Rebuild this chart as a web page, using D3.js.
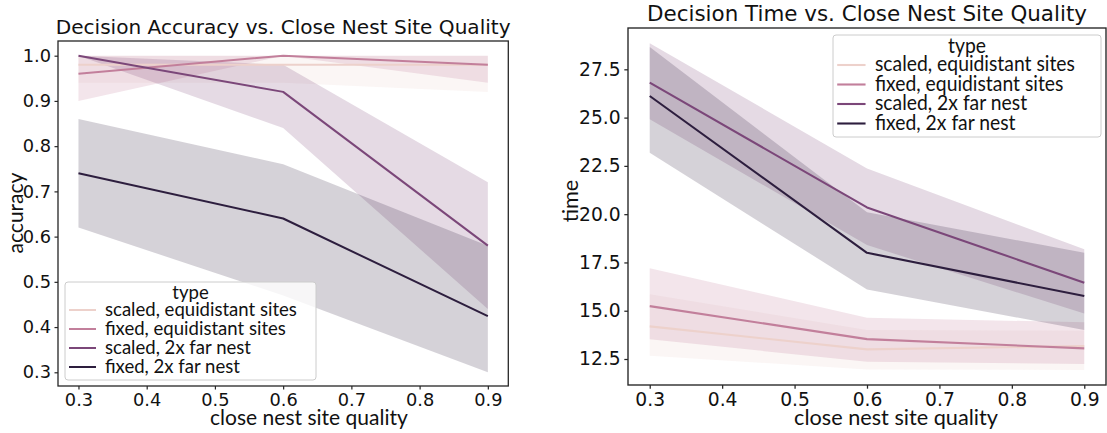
<!DOCTYPE html>
<html><head><meta charset="utf-8">
<script src="https://cdn.jsdelivr.net/npm/d3@7"></script>
<style>body{margin:0;background:#fff}</style></head>
<body>
<svg id="c" width="1107" height="433"></svg>
<script>
// ---------------- data ----------------
const quality = [0.3, 0.6, 0.9];
const types = ["scaled, equidistant sites", "fixed, equidistant sites", "scaled, 2x far nest", "fixed, 2x far nest"];
const colors = ["#edd1cb", "#c27f9b", "#7b4779", "#2d1e3e"];
const xTicks = [0.3, 0.4, 0.5, 0.6, 0.7, 0.8, 0.9];
const accTicks = [0.3, 0.4, 0.5, 0.6, 0.7, 0.8, 0.9, 1.0];
const timeTicks = [12.5, 15.0, 17.5, 20.0, 22.5, 25.0, 27.5];

// Decision accuracy (mean, CI low, CI high) per type
const accScaledEq     = [0.98, 0.98, 0.98];
const accScaledEqLo   = [0.94, 0.94, 0.92];
const accScaledEqHi   = [1.00, 1.00, 1.00];
const accFixedEq      = [0.96, 1.00, 0.98];
const accFixedEqLo    = [0.90, 1.00, 0.94];
const accFixedEqHi    = [1.00, 1.00, 1.00];
const accScaled2x     = [1.00, 0.92, 0.58];
const accScaled2xLo   = [1.00, 0.84, 0.44];
const accScaled2xHi   = [1.00, 0.98, 0.72];
const accFixed2x      = [0.74, 0.64, 0.424];
const accFixed2xLo    = [0.62, 0.47, 0.30];
const accFixed2xHi    = [0.86, 0.76, 0.58];

// Decision time (mean, CI low, CI high) per type
const timeScaledEq    = [14.19, 13.00, 13.17];
const timeScaledEqLo  = [12.67, 11.96, 11.93];
const timeScaledEqHi  = [15.85, 14.00, 13.96];
const timeFixedEq     = [15.24, 13.53, 13.05];
const timeFixedEqLo   = [13.52, 12.36, 12.24];
const timeFixedEqHi   = [17.20, 14.64, 14.40];
const timeScaled2x    = [26.81, 20.35, 16.45];
const timeScaled2xLo  = [24.91, 18.40, 14.85];
const timeScaled2xHi  = [28.85, 22.37, 18.18];
const timeFixed2x     = [26.12, 18.00, 15.76];
const timeFixed2xLo   = [23.18, 16.10, 14.00];
const timeFixed2xHi   = [28.65, 20.10, 18.00];

// ---------------- drawing ----------------
const svg = d3.select("#c");
svg.append("rect").attr("width", 1107).attr("height", 433).attr("fill", "#fff");
const TICK_FONT = "'DejaVu Sans', sans-serif";
const LAB_FONT = "Lato, 'Open Sans', sans-serif";
const INK = "#262626";

function fitText(sel, target) {
  const w = sel.node().getComputedTextLength();
  const fs = parseFloat(sel.attr("font-size"));
  sel.attr("font-size", (fs * target / w).toFixed(2));
}
function natWidth(parent, str, fs) {
  const p = parent.append("text").attr("font-family", LAB_FONT).attr("font-size", fs).text(str);
  const w = p.node().getComputedTextLength();
  p.remove();
  return w;
}
// label text in a humanist face, horizontally condensed by factor k
function labText(parent, x, y, str, fs, k, anchor, rot) {
  const g = parent.append("g")
    .attr("transform", `translate(${x},${y})` + (rot ? ` rotate(${rot})` : "") + ` scale(${k},1)`);
  return g.append("text").attr("x", 0).attr("y", 0)
    .attr("text-anchor", anchor || "start")
    .attr("font-family", LAB_FONT).attr("font-size", fs).attr("fill", "#111").text(str);
}

function panel(cfg) {
  const s = cfg.scale;
  const g = svg.append("g");
  const x = d3.scaleLinear().domain([0.27, 0.93]).range([cfg.l, cfg.r]);
  const y = d3.scaleLinear().domain(cfg.yDomain).range([cfg.b, cfg.t]);

  const series = cfg.series;
  series.forEach((sr, i) => {
    const area = d3.area()
      .x((d, j) => x(quality[j]))
      .y0((d, j) => y(sr.lo[j]))
      .y1((d, j) => y(sr.hi[j]));
    g.append("path").attr("d", area(quality))
      .attr("fill", colors[i]).attr("fill-opacity", 0.2).attr("stroke", "none");
  });
  series.forEach((sr, i) => {
    const line = d3.line().x((d, j) => x(quality[j])).y((d, j) => y(sr.mean[j]));
    g.append("path").attr("d", line(quality))
      .attr("fill", "none").attr("stroke", colors[i]).attr("stroke-width", 2 * s)
      .attr("stroke-linejoin", "round");
  });

  // axes
  const xa = g.append("g").attr("transform", `translate(0,${cfg.b})`)
    .call(d3.axisBottom(x).tickValues(xTicks).tickFormat(d3.format(".1f")).tickSize(3.5 * s).tickPadding(3.5 * s));
  const ya = g.append("g").attr("transform", `translate(${cfg.l},0)`)
    .call(d3.axisLeft(y).tickValues(cfg.yTicks).tickFormat(d3.format(".1f")).tickSize(3.5 * s).tickPadding(3.5 * s));
  [xa, ya].forEach(a => {
    a.select(".domain").remove();
    a.selectAll(".tick line").attr("stroke", INK).attr("stroke-width", 1.2 * s);
    a.selectAll(".tick text").attr("font-family", TICK_FONT).attr("font-size", 17.8 * s).attr("fill", "#111");
  });

  g.append("rect").attr("x", cfg.l).attr("y", cfg.t)
    .attr("width", cfg.r - cfg.l).attr("height", cfg.b - cfg.t)
    .attr("fill", "none").attr("stroke", INK).attr("stroke-width", 1.3 * s);

  // title
  const t = g.append("text").attr("x", (cfg.l + cfg.r) / 2).attr("y", cfg.titleY)
    .attr("text-anchor", "middle").attr("font-family", TICK_FONT).attr("font-size", 19)
    .attr("fill", "#111").text(cfg.title);
  fitText(t, cfg.titleW);

  // label font condensation, fitted to legend text width
  const FS = 20 * s;
  const k = cfg.legendTextW / natWidth(g, types[0], FS);
  // axis labels: plain face, sized to the reference width
  const FSax = FS * cfg.xLabW / natWidth(g, "close nest site quality", FS);

  labText(g, cfg.xLabX, cfg.xLabY, "close nest site quality", FSax, 1, "middle");
  labText(g, cfg.yLabX, cfg.yLabY, cfg.yLabel, FSax, 1, "middle", -90);

  // legend
  const L = cfg.legend;
  const lg = g.append("g");
  lg.append("rect").attr("x", L.x).attr("y", L.y).attr("width", L.w).attr("height", L.h)
    .attr("rx", 3).attr("fill", "#fff").attr("fill-opacity", 0.8)
    .attr("stroke", "#cccccc").attr("stroke-width", 1);
  labText(lg, L.x + L.w / 2, L.titleC + 6 * s, "type", FS, k, "middle");
  types.forEach((tp, i) => {
    const cy = L.row0 + i * L.dy;
    lg.append("line").attr("x1", L.x + 4 * s).attr("x2", L.x + 31 * s)
      .attr("y1", cy).attr("y2", cy).attr("stroke", colors[i]).attr("stroke-width", 2 * s);
    labText(lg, L.x + 40 * s, cy + 6 * s, tp, FS, k, "start");
  });
}

panel({
  scale: 1.0,
  l: 58, r: 508.3, t: 41, b: 386,
  yDomain: [0.2697, 1.0325], yTicks: accTicks,
  title: "Decision Accuracy vs. Close Nest Site Quality", titleY: 33.5, titleW: 455,
  xLabX: 309, xLabY: 425, xLabW: 198, yLabX: 23, yLabY: 213, yLabel: "accuracy",
  legendTextW: 192,
  legend: {x: 65, y: 282, w: 251, h: 98, titleC: 293, row0: 310, dy: 19},
  series: [
    {mean: accScaledEq, lo: accScaledEqLo, hi: accScaledEqHi},
    {mean: accFixedEq, lo: accFixedEqLo, hi: accFixedEqHi},
    {mean: accScaled2x, lo: accScaled2xLo, hi: accScaled2xHi},
    {mean: accFixed2x, lo: accFixed2xLo, hi: accFixed2xHi}
  ]
});

panel({
  scale: 1.05,
  l: 628, r: 1106, t: 28, b: 385,
  yDomain: [11.154, 29.64], yTicks: timeTicks,
  title: "Decision Time vs. Close Nest Site Quality", titleY: 20.5, titleW: 440,
  xLabX: 896, xLabY: 425, xLabW: 204, yLabX: 578, yLabY: 201, yLabel: "time",
  legendTextW: 200,
  legend: {x: 833, y: 35, w: 268, h: 102, titleC: 46.5, row0: 65, dy: 19.5},
  series: [
    {mean: timeScaledEq, lo: timeScaledEqLo, hi: timeScaledEqHi},
    {mean: timeFixedEq, lo: timeFixedEqLo, hi: timeFixedEqHi},
    {mean: timeScaled2x, lo: timeScaled2xLo, hi: timeScaled2xHi},
    {mean: timeFixed2x, lo: timeFixed2xLo, hi: timeFixed2xHi}
  ]
});
</script>
</body></html>
